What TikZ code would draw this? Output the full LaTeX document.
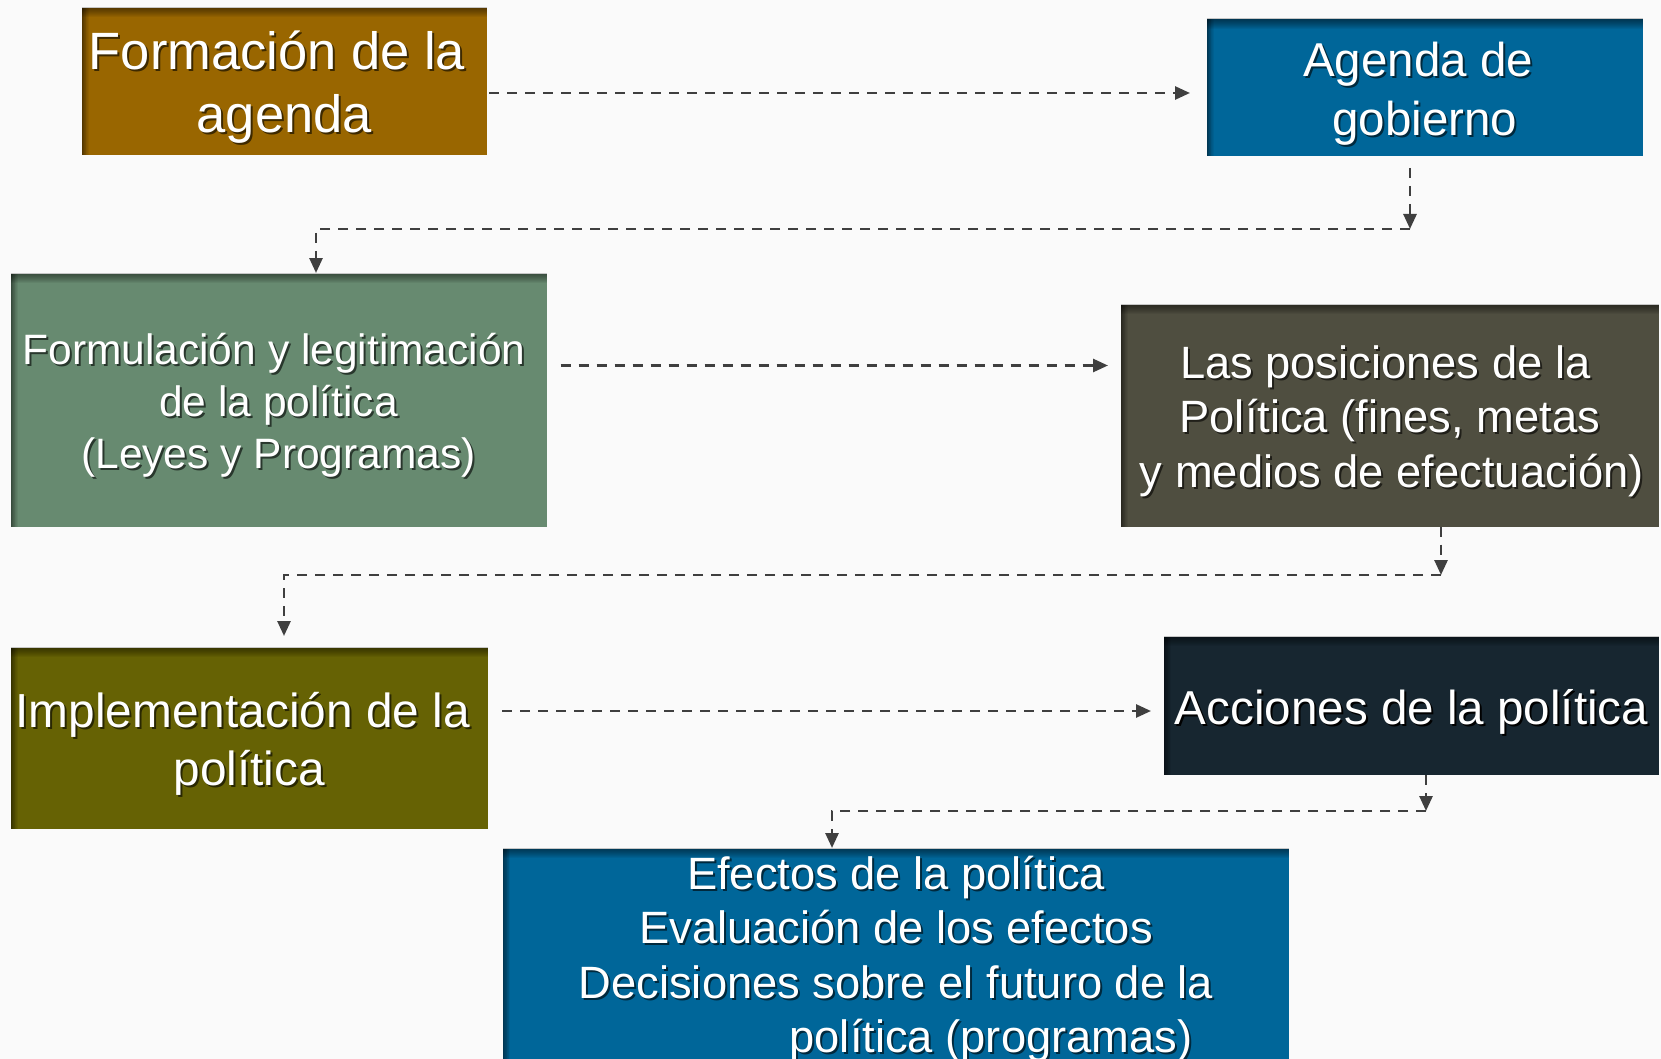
\documentclass[tikz,border=0pt]{standalone}
\usepackage{fontspec}
\setmainfont{Liberation Sans}
\usetikzlibrary{arrows.meta}
\definecolor{bgc}{HTML}{FAFAFA}
\definecolor{cA}{HTML}{996600}
\definecolor{cB}{HTML}{006699}
\definecolor{cC}{HTML}{678A70}
\definecolor{cD}{HTML}{4F4E40}
\definecolor{cE}{HTML}{666204}
\definecolor{cF}{HTML}{172630}
\definecolor{lnc}{HTML}{3F3F3F}
\colorlet{shadowc}{black}
\newcommand\sh[1]{\makebox[0pt][l]{\kern2pt\raisebox{-2pt}{\textcolor{shadowc}{#1}}}#1}
\newcommand\boxshade[1]{%
  \foreach \i in {1,...,10}{%
    \fill[black,opacity=.055] (#1.north west) rectangle ([yshift=-\i pt]#1.north east);
    \fill[black,opacity=.055] (#1.north west) rectangle ([xshift={\i*0.7pt}]#1.south west);
  }%
  \draw[black!22,line width=1pt] (#1.north west) -- (#1.north east);
}
\tikzset{
  procbox/.style={anchor=north west, inner sep=0pt, outer sep=0pt},
  boxtext/.style={inner sep=0pt, text=white, align=center},
  conn/.style={draw=lnc, line width=2.7pt, dash pattern=on 10pt off 8pt,
    -{Triangle[length=15pt,width=13pt]}}
}
\begin{document}
\begin{tikzpicture}[x=1pt,y=-1pt]
\useasboundingbox (0,0) rectangle (1661,1059);
\fill[bgc] (0,0) rectangle (1661,1059);
\clip (0,0) rectangle (1661,1059);

% boxes
\node[procbox, fill=cA, minimum width=405.5pt, minimum height=148pt] (b1) at (81.5,7.5) {};
\node[procbox, fill=cB, minimum width=436.5pt, minimum height=137pt] (b2) at (1206.5,19) {};
\node[procbox, fill=cC, minimum width=536pt, minimum height=253.5pt] (b3) at (10.5,273) {};
\node[procbox, fill=cD, minimum width=538.5pt, minimum height=222.5pt] (b4) at (1120.5,304) {};
\node[procbox, fill=cE, minimum width=477.5pt, minimum height=182pt] (b5) at (10.5,647) {};
\node[procbox, fill=cF, minimum width=495pt, minimum height=139pt] (b6) at (1164,636) {};
\node[procbox, fill=cB, minimum width=786pt, minimum height=222pt] (b7) at (503,848) {};

\boxshade{b1}\boxshade{b2}\boxshade{b3}\boxshade{b4}\boxshade{b5}\boxshade{b6}\boxshade{b7}

% texts
\node[boxtext, font=\fontsize{52.5}{63}\selectfont\colorlet{shadowc}{cA!40!black}]
  (b1t) at ([yshift=-7pt]b1.center) {\sh{Formación de la}\hspace*{14.6pt}\\\sh{agenda}};
\node[boxtext, font=\fontsize{47.5}{59}\selectfont\colorlet{shadowc}{cB!40!black}]
  (b2t) at ([yshift=-7pt]b2.center) {\sh{Agenda de}\hspace*{13.2pt}\\\sh{gobierno}};
\node[boxtext, font=\fontsize{42.5}{52}\selectfont\colorlet{shadowc}{cC!40!black}]
  (b3t) at ([yshift=-7pt]b3.center) {\sh{Formulación y legitimación}\hspace*{9pt}\\\sh{de la política}\\\sh{(Leyes y Programas)}};
\node[boxtext, font=\fontsize{45.3}{54.5}\selectfont\colorlet{shadowc}{cD!40!black}]
  (b4t) at ([yshift=-7pt]b4.center) {\sh{Las posiciones de la}\hspace*{9pt}\\\sh{Política (fines, metas}\hspace*{9pt}\\\hspace*{4pt}\sh{y medios de efectuación)}};
\node[boxtext, font=\fontsize{47.8}{58}\selectfont\colorlet{shadowc}{cE!40!black}]
  (b5t) at ([yshift=-7pt]b5.center) {\sh{Implementación de la}\hspace*{13.3pt}\\\sh{política}};
\node[boxtext, font=\fontsize{47.6}{57}\selectfont\colorlet{shadowc}{black}]
  (b6t) at ([yshift=-7pt]b6.center) {\sh{Acciones de la política}};
\node[boxtext, font=\fontsize{45.3}{54.5}\selectfont\colorlet{shadowc}{cB!40!black}]
  (b7t) at ([yshift=-1pt]b7.center) {\sh{Efectos de la política}\\\sh{Evaluación de los efectos}\\\sh{Decisiones sobre el futuro de la}\\\hspace*{190pt}\sh{política (programas)}};

% connectors
\coordinate (t1) at (1190,93);
\draw[conn] ([xshift=2pt]b1.east |- t1) -- (t1);

\coordinate (k2) at (1410,229);
\coordinate (k2b) at (316,229);
\draw[conn] ([yshift=-12pt]b2.south -| k2) -- (k2);
\draw[conn] (k2) -- (k2b) -- (k2b |- b3.north);

\coordinate (t3) at (1108,365.5);
\draw[conn] ([xshift=14pt]b3.east |- t3) -- (t3);

\coordinate (k4) at (1441,575);
\coordinate (k4b) at (284,575);
\draw[conn] (b4.south -| k4) -- (k4);
\draw[conn] (k4) -- (k4b) -- ([yshift=11pt]b5.north -| k4b);

\coordinate (t5) at (1151,711);
\draw[conn] ([xshift=14pt]b5.east |- t5) -- (t5);

\coordinate (k6) at (1426,811);
\coordinate (k6b) at (832,811);
\draw[conn] (b6.south -| k6) -- (k6);
\draw[conn] (k6) -- (k6b) -- (k6b |- b7.north);
\end{tikzpicture}
\end{document}
